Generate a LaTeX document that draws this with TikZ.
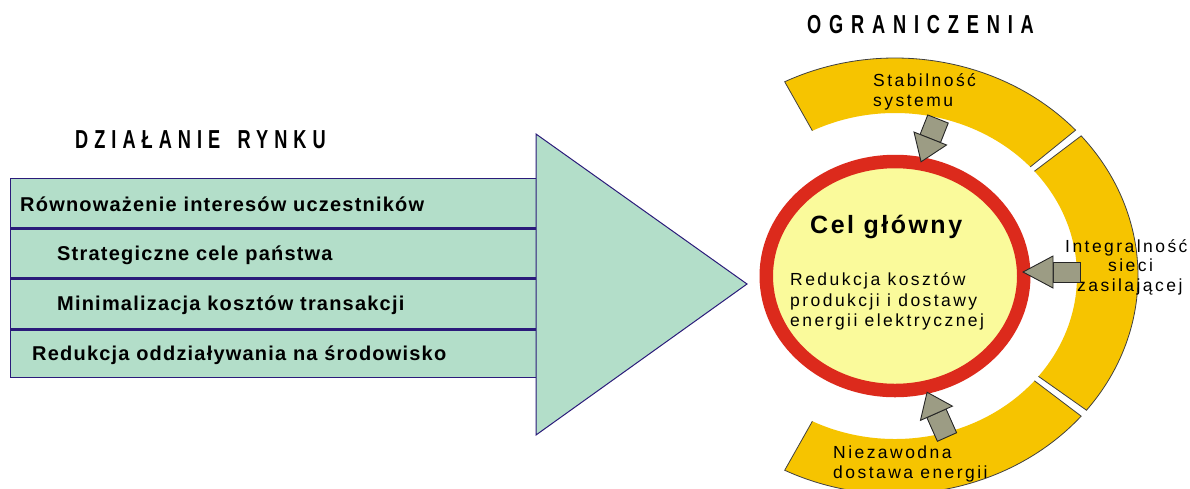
\documentclass[tikz,border=0pt]{standalone}
\usepackage{fontspec}
\usetikzlibrary{shapes.geometric}
\setmainfont{Liberation Sans}
\newfontfamily\trackA{Liberation Sans}[LetterSpace=6]
\newfontfamily\trackB{Liberation Sans}[LetterSpace=14]
\newfontfamily\trackC{Liberation Sans}[LetterSpace=10]
\newfontfamily\trackT{Liberation Sans}[LetterSpace=33]
\newfontfamily\trackO{Liberation Sans}[LetterSpace=43]
\definecolor{boxgreen}{HTML}{B3DEC9}
\definecolor{navy}{HTML}{2B1B7A}
\definecolor{band}{HTML}{F6C400}
\definecolor{ringred}{HTML}{DC2A1C}
\definecolor{goalfill}{HTML}{FAFA9B}
\definecolor{arrgray}{HTML}{9C9C84}
\tikzset{
  rowbox/.style={draw=navy, line width=1.3pt, fill=boxgreen, minimum width=526pt, inner sep=0pt, anchor=north west},
  sep/.style={draw=navy, line width=2.4pt},
  tri/.style={draw=navy, line width=1pt, fill=boxgreen},
  rowtext/.style={anchor=base west, inner sep=0pt, font=\trackA\bfseries\fontsize{20}{24}\selectfont},
  smalltext/.style={anchor=base west, inner sep=0pt, font=\trackB\fontsize{17.5}{20}\selectfont},
  bandst/.style={fill=band},
  bandline/.style={draw=black!75, line width=0.8pt},
  arrowst/.style={fill=arrgray, draw=black!85, line width=0.9pt, line join=miter},
}
\newcommand{\blockarr}[6]{%
  \begin{scope}[shift={(#1)},rotate=#2]
    \filldraw[arrowst] (0,-#4/2) rectangle (#3-#6,#4/2);
    \filldraw[arrowst] (#3-#6,-#5/2) -- (#3,0) -- (#3-#6,#5/2) -- cycle;
  \end{scope}}
\newcommand{\bandseg}[2]{%
  \begin{scope}[shift={(895,-276)}]
    \fill[bandst] (#1:243 and 218) arc[start angle=#1, end angle=#2, x radius=243, y radius=218]
      -- (#2:182 and 163) arc[start angle=#2, end angle=#1, x radius=182, y radius=163] -- cycle;
    \draw[bandline] (#1:182 and 163) -- (#1:243 and 218) arc[start angle=#1, end angle=#2, x radius=243, y radius=218]
      -- (#2:182 and 163);
  \end{scope}}
\begin{document}
\begin{tikzpicture}[x=1pt,y=1pt]
\useasboundingbox (0,0) rectangle (1190,-488);
\fill[white] (0,0) rectangle (1190,-488);

% left market block
\node[rowbox, minimum height=49pt] (r1) at (10,-178) {};
\node[rowbox, minimum height=50pt] (r2) at (10,-227) {};
\node[rowbox, minimum height=51pt] (r3) at (10,-277) {};
\node[rowbox, minimum height=49pt] (r4) at (10,-328) {};
\draw[sep] (r1.south west) -- (r1.south east);
\draw[sep] (r2.south west) -- (r2.south east);
\draw[sep] (r3.south west) -- (r3.south east);
\coordinate (t1) at (536,-134);
\coordinate (t2) at (747,-284);
\coordinate (t3) at (536,-435);
\draw[tri] (t1) -- (t2) -- (t3) -- cycle;

\node[rowtext] (l1) at (20,-211.5) {Równoważenie interesów uczestników};
\node[rowtext] (l2) at (57,-260) {Strategiczne cele państwa};
\node[rowtext] (l3) at (57,-310) {Minimalizacja kosztów transakcji};
\node[rowtext] (l4) at (32,-360.5) {Redukcja oddziaływania na środowisko};

\node[anchor=base west, inner sep=0pt] (title1) at (75,-148.3) {\scalebox{0.7}[1]{\trackT\bfseries\fontsize{26}{30}\selectfont DZIAŁANIE\hspace{9pt} RYNKU}};
\node[anchor=base west, inner sep=0pt] (title2) at (807,-33.3) {\scalebox{0.7}[1]{\trackO\bfseries\fontsize{26}{30}\selectfont OGRANICZENIA}};

% constraint band
\bandseg{117}{42}
\bandseg{40}{-38}
\bandseg{-40}{-117}

% goal circle
\node[draw=ringred, line width=13.5pt, fill=goalfill, ellipse, minimum width=257.5pt, minimum height=229pt, inner sep=0pt] (goal) at (895,-276) {};

\node[anchor=base west, inner sep=0pt, font=\trackC\bfseries\fontsize{25}{30}\selectfont] (goalt) at (810,-233) {Cel główny};
\node[smalltext] (g1) at (790,-285.5) {Redukcja kosztów};
\node[smalltext] (g2) at (790,-306) {produkcji i dostawy};
\node[smalltext] (g3) at (790,-326) {energii elektrycznej};

% constraint labels
\node[smalltext] (s1) at (873,-86) {Stabilność};
\node[smalltext] (s2) at (873,-106) {systemu};
\node[smalltext] (i1) at (1065,-252) {Integralność};
\node[smalltext] (i2) at (1108,-271) {sieci};
\node[smalltext] (i3) at (1077,-291) {zasilającej};
\node[smalltext] (n1) at (833,-458) {Niezawodna};
\node[smalltext] (n2) at (833,-478) {dostawa energii};

% arrows into goal
\blockarr{938,-119}{248.4}{46}{22}{35}{25}
\blockarr{1080,-272}{180}{57}{20}{32}{30}
\blockarr{947,-437}{114}{49}{21}{35}{23}
\end{tikzpicture}
\end{document}
